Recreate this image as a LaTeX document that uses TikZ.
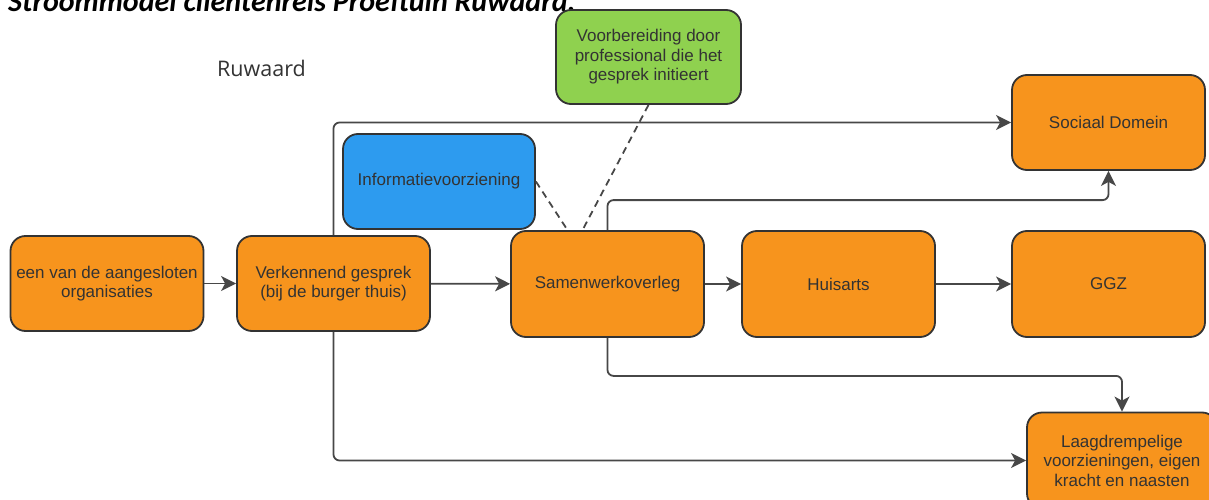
\documentclass[tikz,border=0pt]{standalone}
\usepackage{fontspec}
\setmainfont{Liberation Sans}
\newfontfamily\titlefont{Carlito}
\newfontfamily\rfont{Open Sans}
\usetikzlibrary{arrows.meta}
\definecolor{orng}{HTML}{F7941D}
\definecolor{blu}{HTML}{2D9BEF}
\definecolor{grn}{HTML}{8FD14F}
\definecolor{bordc}{HTML}{333333}
\definecolor{txtc}{HTML}{333333}
\definecolor{linec}{HTML}{474747}
\begin{document}
\begin{tikzpicture}[x=1pt,y=-1pt,
  box/.style={draw=bordc, line width=1.8pt, rounded corners=15pt, fill=orng,
    minimum width=193pt, minimum height=95pt, align=center, text=txtc,
    font=\fontsize{17}{19.5}\selectfont, inner sep=1pt},
  arr/.style={draw=linec, line width=1.8pt, -{Stealth[length=15pt,width=15pt,inset=4pt]}},
  dsh/.style={draw=linec, line width=1.8pt, dash pattern=on 7pt off 5pt},
  elbow/.style={rounded corners=6pt}]
\clip (0,0) rectangle (1209,500);
\useasboundingbox (0,0) rectangle (1209,500);
\node[anchor=base west, font=\titlefont\bfseries\itshape\fontsize{30}{34}\selectfont, inner sep=0pt] (title) at (8,12) {Stroommodel cliëntenreis Proeftuin Ruwaard.};
\node[anchor=base west, font=\rfont\fontsize{21.5}{24}\selectfont, text=txtc, inner sep=0pt] (ruw) at (217,77) {Ruwaard};

\node[box] (een) at (107,283.5) {een van de aangesloten\\organisaties};
\node[box] (verk) at (333.5,283.5) {Verkennend gesprek\\(bij de burger thuis)};
\node[box, minimum height=106pt] (samen) at (607.5,284) {Samenwerkoverleg};
\node[box, minimum height=106pt] (huis) at (838.5,284) {Huisarts};
\node[box, minimum height=106pt] (ggz) at (1108.5,284) {GGZ};
\node[box] (soc) at (1108.5,122.5) {Sociaal Domein};
\node[box, minimum width=190pt, minimum height=96pt] (laag) at (1122,460.5) {Laagdrempelige\\voorzieningen, eigen\\kracht en naasten};
\node[box, fill=blu, minimum width=192pt] (info) at (439,181.5) {Informatievoorziening};
\node[box, fill=grn, minimum width=185pt, minimum height=94pt] (voor) at (648.5,57) {Voorbereiding door\\professional die het\\gesprek initieert};

\coordinate (d1) at ([xshift=-40pt]samen.north);
\coordinate (d2) at ([xshift=-25pt]samen.north);
\draw[dsh] (info.east) -- (d1);
\draw[dsh] (voor.south) -- (d2);

\draw[arr] (een) -- (verk);
\draw[arr] (verk) -- (samen);
\draw[arr] (samen) -- (huis);
\draw[arr] (huis) -- (ggz);
\draw[arr, elbow] (verk.north) -- (verk.north |- soc.west) -- (soc.west);
\draw[arr, elbow] (verk.south) -- (verk.south |- laag.west) -- (laag.west);
\draw[arr, elbow] (samen.north) -- ++(0,-30) -| (soc.south);
\draw[arr, elbow] (samen.south) -- ++(0,38) -| (laag.north);
\end{tikzpicture}
\end{document}
